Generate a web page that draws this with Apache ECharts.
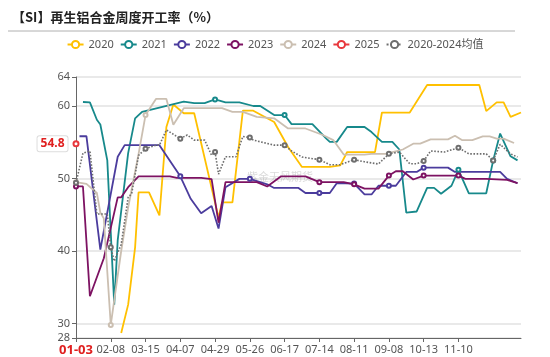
<!DOCTYPE html>
<html><head><meta charset="utf-8">
<script src="https://cdn.jsdelivr.net/npm/echarts@6.0.0/dist/echarts.min.js"></script>
<style>html,body{margin:0;padding:0;background:#fff}#c{width:550px;height:357px}</style>
</head><body><div id="c"></div>
<script>
const categories = [
'01-03','01-06','01-10','01-13','01-17','01-20','01-24','01-27','01-31','02-04',
'02-08','02-11','02-15','02-18','02-22','02-25','03-01','03-04','03-08','03-11',
'03-15','03-17','03-19','03-22','03-24','03-26','03-29','03-31','04-02','04-05',
'04-07','04-09','04-11','04-14','04-16','04-18','04-21','04-23','04-25','04-27',
'04-29','05-02','05-05','05-08','05-10','05-13','05-16','05-18','05-21','05-23',
'05-26','05-28','05-30','06-02','06-04','06-06','06-09','06-11','06-13','06-15',
'06-17','06-20','06-23','06-26','06-28','07-01','07-04','07-06','07-09','07-11',
'07-14','07-17','07-20','07-22','07-25','07-28','07-31','08-03','08-05','08-08',
'08-11','08-14','08-17','08-19','08-22','08-25','08-28','08-31','09-02','09-05',
'09-08','09-11','09-15','09-18','09-22','09-25','09-29','10-02','10-06','10-09',
'10-13','10-16','10-19','10-21','10-24','10-27','10-30','11-02','11-04','11-07',
'11-10','11-13','11-16','11-18','11-21','11-24','11-27','11-30','12-02','12-05',
'12-08','12-11','12-14','12-16','12-19','12-22','12-25','12-28','12-30'];
const tickLabels = ['01-03','02-08','03-15','04-07','04-29','05-26','06-17','07-14','08-11','09-08','10-13','11-10'];
const yTicks = {min: 28, max: 64};

const s2020 = [['02-18',28.7],['02-25',32.6],['03-04',40.5],['03-08',48.1],['03-17',48.1],['03-24',44.9],['03-29',57.1],['04-02',60.2],['04-09',59.0],['04-16',59.0],['05-02',44.6],['05-05',46.7],['05-13',46.7],['05-21',59.35],['05-28',59.35],['06-11',57.8],['06-20',54.35],['07-01',51.6],['07-22',51.6],['07-31',51.8],['08-05',53.65],['08-28',53.65],['09-02',59.1],['09-29',59.1],['10-16',62.9],['11-27',62.9],['12-02',59.3],['12-11',60.5],['12-16',60.5],['12-22',58.5],['12-30',59.1]];
const s2021 = [['01-10',60.55],['01-17',60.5],['01-24',58.1],['01-27',57.45],['02-04',52.5],['02-11',32.6],['02-15',41.5],['02-25',53.5],['03-04',58.3],['03-11',59.2],['04-09',60.6],['04-16',60.4],['04-23',60.4],['04-29',60.9],['05-08',60.5],['05-18',60.5],['05-28',60.0],['06-02',60.0],['06-11',58.75],['06-17',58.75],['06-23',57.5],['07-09',57.5],['07-20',55.5],['07-22',55.05],['07-28',55.05],['08-05',57.1],['08-19',57.1],['08-25',56.4],['09-02',55.05],['09-11',55.05],['09-18',54.0],['09-25',45.3],['10-06',45.45],['10-16',48.7],['10-21',48.7],['10-27',47.9],['11-04',49.0],['11-10',51.2],['11-18',47.96],['12-02',47.96],['12-08',52.5],['12-14',56.2],['12-22',53.06],['12-28',52.5]];
const s2022 = [['01-06',55.83],['01-13',55.83],['01-27',40.2],['02-15',53.0],['02-22',54.6],['03-24',54.6],['04-07',50.3],['04-14',47.2],['04-21',45.2],['04-27',46.2],['05-02',43.1],['05-08',48.8],['05-18',49.95],['05-26',49.95],['06-06',49.2],['06-11',48.7],['06-28',48.7],['07-04',48.0],['07-14',48.0],['07-22',48.0],['07-28',49.35],['08-11',49.3],['08-19',47.8],['08-25',47.8],['08-31',49.0],['09-08',49.0],['09-15',49.0],['09-25',50.9],['10-06',50.9],['10-13',51.5],['11-02',51.5],['11-07',50.9],['12-14',50.9],['12-19',49.95],['12-28',49.35]];
const s2023 = [['01-03',48.9],['01-10',48.9],['01-17',33.75],['01-31',39.0],['02-15',47.4],['02-18',47.4],['02-25',48.8],['03-08',50.3],['03-31',50.3],['04-05',50.1],['04-21',50.1],['04-27',49.9],['05-02',43.9],['05-08',49.5],['05-18',49.5],['05-30',49.5],['06-06',48.9],['06-15',50.3],['07-04',50.3],['07-14',49.5],['08-03',49.5],['08-11',49.2],['08-19',48.6],['08-31',48.6],['09-08',50.4],['09-15',51.0],['09-22',51.0],['10-02',49.86],['10-13',50.4],['11-10',50.4],['11-16',49.95],['12-02',49.95],['12-19',49.8],['12-28',49.35]];
const s2024 = [['01-03',49.5],['01-13',49.25],['01-24',48.0],['01-27',45.3],['01-31',44.5],['02-08',29.8],['02-18',40.0],['02-25',46.0],['03-08',53.4],['03-15',58.75],['03-22',60.97],['03-29',60.97],['04-02',57.4],['04-09',59.7],['05-05',59.7],['05-13',59.2],['05-21',59.2],['05-30',58.5],['06-11',58.3],['06-20',56.9],['07-04',56.9],['07-17',56.0],['07-25',55.3],['08-03',53.3],['08-19',53.3],['08-25',53.4],['09-05',53.4],['09-22',54.0],['10-02',54.8],['10-09',54.8],['10-19',55.4],['11-02',55.4],['11-07',55.9],['11-13',55.3],['11-21',55.3],['11-30',55.8],['12-05',55.8],['12-11',55.5],['12-16',55.5],['12-25',54.9]];
const s2025 = [['01-03',54.8]];
const sMean = [['01-03',49.4],['01-10',53.5],['01-17',53.8],['01-24',45.1],['02-04',45.1],['02-08',40.5],['02-11',38.6],['02-18',40.9],['02-25',47.4],['03-01',47.9],['03-08',53.2],['03-15',54.1],['03-22',54.6],['03-24',54.6],['03-29',56.7],['04-07',55.5],['04-11',56.0],['04-16',55.3],['04-23',55.3],['04-27',53.2],['04-29',53.65],['05-02',50.6],['05-08',53.0],['05-16',53.0],['05-21',55.8],['05-26',55.65],['05-28',55.3],['06-11',54.6],['06-17',54.6],['06-23',53.8],['07-01',52.96],['07-14',52.6],['07-22',51.9],['07-31',51.9],['08-11',52.6],['08-19',52.3],['08-31',52.0],['09-08',53.4],['09-18',53.65],['09-29',52.04],['10-06',52.04],['10-13',52.4],['10-19',53.8],['10-30',53.65],['11-10',54.25],['11-18',53.4],['12-02',53.4],['12-08',52.5],['12-14',54.7],['12-22',53.4],['12-28',52.96]];

const names = ['2020','2021','2022','2023','2024','2025','2020-2024均值'];
const colors = ['#FFC000','#17898B','#4B3C9D','#7D1262','#CBBFB1','#E8383D','#6E6E6E'];
const seriesData = [s2020, s2021, s2022, s2023, s2024, s2025, sMean];

const font = '"Noto Sans", "Noto Sans CJK SC", sans-serif';
const chart = echarts.init(document.getElementById('c'), null, {renderer: 'canvas'});

const series = seriesData.map((d, k) => {
  const s = {
    name: names[k], type: 'line', data: d,
    symbol: 'emptyCircle', symbolSize: 4, showSymbol: true, showAllSymbol: 'auto',
    lineStyle: {width: k === 6 ? 1.6 : 1.8, color: colors[k], type: k === 6 ? 'dotted' : 'solid'},
    itemStyle: {color: colors[k], borderWidth: 1},
    emphasis: {disabled: true},
    z: k === 6 ? 3 : 2
  };
  if (k === 5) {
    s.symbolSize = 5;
    s.label = {
      show: true, position: 'left', distance: 5,
      formatter: (p) => String(p.value[1]),
      color: '#E02020', fontWeight: 'bold', fontSize: 12, fontFamily: font,
      backgroundColor: '#fff', borderColor: '#ddd', borderWidth: 1,
      padding: [2, 3, 1, 3], borderRadius: 2
    };
    s.z = 5;
  }
  return s;
});

chart.setOption({
  animation: false,
  backgroundColor: '#fff',
  title: {
    text: '【SI】再生铝合金周度开工率（%）', left: 12, top: 11, padding: 0,
    textStyle: {fontSize: 13, fontWeight: 'bold', color: '#222', fontFamily: '"Noto Sans CJK SC", sans-serif'}
  },
  legend: {
    data: names, top: 34, left: 'center', itemWidth: 16, itemHeight: 9, itemGap: 6,
    textStyle: {fontSize: 11, color: '#555', fontFamily: font}
  },
  grid: {left: 76, right: 29, top: 77, bottom: 19, containLabel: false},
  xAxis: {
    type: 'category', data: categories, boundaryGap: false,
    axisLine: {lineStyle: {color: '#666', width: 1}},
    axisTick: {show: true, length: 4, lineStyle: {color: '#666'},
      interval: (idx, name) => tickLabels.includes(name)},
    axisLabel: {
      interval: (idx) => idx % 10 === 0,
      formatter: (value) => value === tickLabels[0] ? '{r|' + value + '}' : (tickLabels.includes(value) ? value : ''),
      color: '#555', fontSize: 11, margin: 6, fontFamily: font,
      rich: {r: {color: '#E02020', fontSize: 13, fontWeight: 'bold', fontFamily: font}}
    },
    splitLine: {show: false}
  },
  yAxis: {
    type: 'value', min: yTicks.min, max: yTicks.max,
    axisLine: {show: true, lineStyle: {color: '#666', width: 1}},
    axisTick: {show: true, length: 4, lineStyle: {color: '#666'}},
    axisLabel: {color: '#555', fontSize: 11, margin: 6, fontFamily: font},
    splitLine: {show: true, lineStyle: {color: '#e2e2e2', width: 1.5}}
  },
  graphic: [
    {type: 'line', shape: {x1: 8, y1: 31, x2: 515, y2: 31}, style: {stroke: '#b0b0b0', lineWidth: 1}, silent: true},
    {type: 'text', left: 247, top: 171, silent: true, z: 1,
      style: {text: '紫金天风期货', fill: 'rgba(150,150,150,0.35)', font: '11px "Noto Sans CJK SC", sans-serif'}}
  ],
  series: series
});
</script>
</body></html>
